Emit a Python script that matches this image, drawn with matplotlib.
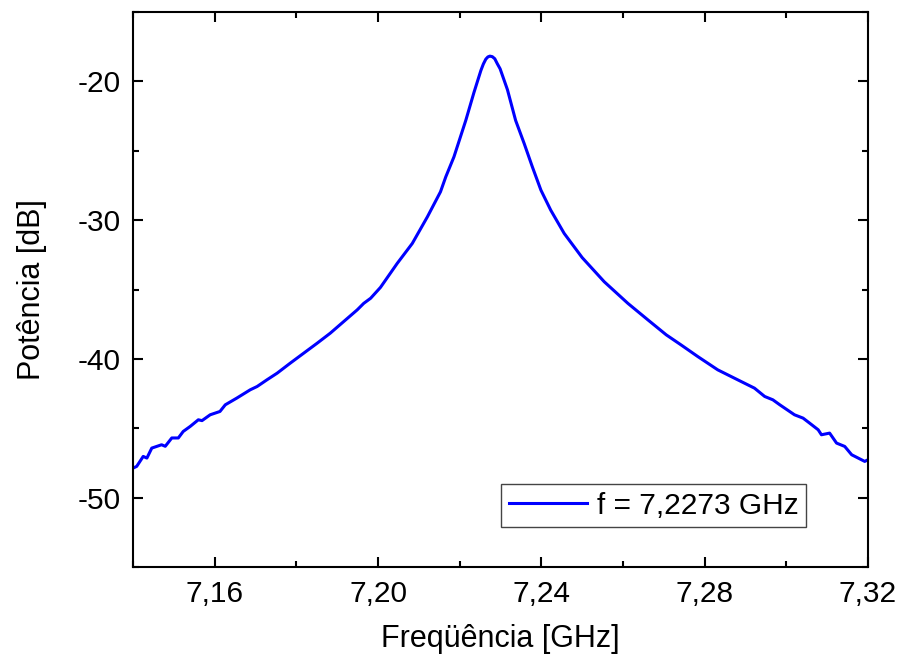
import matplotlib
matplotlib.use("Agg")
import matplotlib.pyplot as plt
from matplotlib.ticker import MultipleLocator, FuncFormatter

# values
freq = [7.1401, 7.1409, 7.1425, 7.1434, 7.1446, 7.1470, 7.1479, 7.1495, 7.1511, 7.1523,
        7.1540, 7.1560, 7.1569, 7.1589, 7.1613, 7.1626, 7.1654, 7.1687, 7.1704, 7.1728,
        7.1753, 7.1785, 7.1818, 7.1851, 7.1883, 7.1916, 7.1949, 7.1965, 7.1982, 7.2006,
        7.2047, 7.2084, 7.2121, 7.2153, 7.2166, 7.2186, 7.2215, 7.2235, 7.2252, 7.2258,
        7.2264, 7.2269, 7.2274, 7.2280, 7.2286, 7.2292, 7.2299, 7.2317, 7.2337, 7.2358,
        7.2378, 7.2399, 7.2423, 7.2456, 7.2500, 7.2554, 7.2612, 7.2661, 7.2706, 7.2742,
        7.2783, 7.2832, 7.2881, 7.2922, 7.2947, 7.2967, 7.2984, 7.3020, 7.3041, 7.3057,
        7.3078, 7.3086, 7.3106, 7.3123, 7.3143, 7.3160, 7.3176, 7.3192, 7.3200]
power = [-47.86, -47.75, -47.03, -47.15, -46.43, -46.19, -46.30, -45.70, -45.70, -45.23,
         -44.87, -44.39, -44.45, -44.03, -43.79, -43.31, -42.83, -42.23, -41.99, -41.51,
         -41.03, -40.31, -39.59, -38.87, -38.15, -37.31, -36.47, -36.00, -35.63, -34.85,
         -33.12, -31.68, -29.76, -27.96, -26.88, -25.44, -22.81, -20.80, -19.21, -18.75,
         -18.40, -18.24, -18.18, -18.22, -18.37, -18.72, -19.09, -20.60, -22.81, -24.48,
         -26.16, -27.84, -29.28, -30.96, -32.70, -34.44, -36.00, -37.19, -38.27, -38.99,
         -39.83, -40.79, -41.51, -42.11, -42.71, -42.95, -43.31, -44.03, -44.27, -44.63,
         -45.11, -45.47, -45.35, -46.07, -46.31, -46.91, -47.15, -47.39, -47.27]
legend_label = "f = 7,2273 GHz"

plt.rcParams['font.family'] = ['Liberation Sans', 'DejaVu Sans']

fig = plt.figure(figsize=(9.01, 6.59), dpi=100)
ax = fig.add_axes([133/901, 1 - 567/659, 735/901, 555/659])

ax.plot(freq, power, color="#0000ff", linewidth=2.2, label=legend_label)

ax.set_xlim(7.14, 7.32)
ax.set_ylim(-55, -15)

ax.xaxis.set_minor_locator(MultipleLocator(0.02))
ax.yaxis.set_major_locator(MultipleLocator(10))
ax.yaxis.set_minor_locator(MultipleLocator(5))
ax.set_xticks([7.16, 7.20, 7.24, 7.28, 7.32])
ax.xaxis.set_major_formatter(FuncFormatter(lambda v, p: f"{v:.2f}".replace(".", ",")))
ax.yaxis.set_major_formatter(FuncFormatter(lambda v, p: f"{v:.0f}"))

ax.tick_params(which="both", direction="in", top=True, right=True, width=1.5, labelsize=21.5)
ax.tick_params(which="major", length=7.5, pad=9)
ax.tick_params(which="minor", length=4)
for s in ax.spines.values():
    s.set_linewidth(1.5)

ax.set_xlabel("Freqüência [GHz]", fontsize=22, labelpad=12)
ax.set_ylabel("Potência [dB]", fontsize=22, labelpad=22)

leg = ax.legend(loc="lower right", bbox_to_anchor=(0.916, 0.072), borderaxespad=0,
                fontsize=21.5, fancybox=False, handlelength=2.6, handletextpad=0.35,
                borderpad=0.25, framealpha=1)
leg.get_frame().set_edgecolor("#444444")
leg.get_frame().set_linewidth(1.0)

fig.savefig("out.png", dpi=100)
